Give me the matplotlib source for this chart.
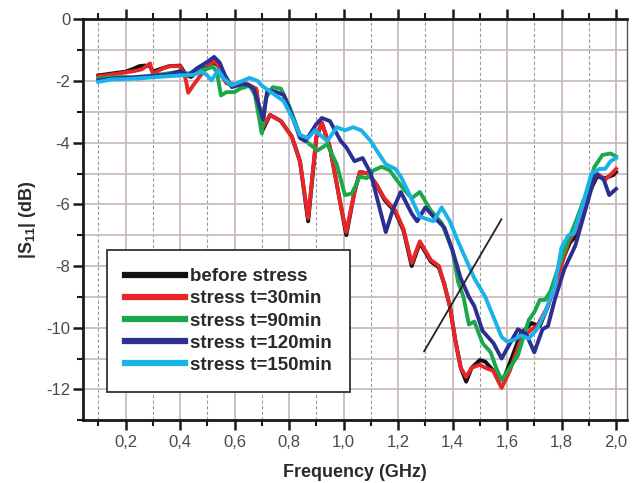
import matplotlib
matplotlib.use('Agg')
import matplotlib.pyplot as plt
from matplotlib.ticker import MultipleLocator, FuncFormatter

plt.rcParams['font.family'] = ['Liberation Sans', 'DejaVu Sans']
plt.rcParams['mathtext.fontset'] = 'custom'
plt.rcParams['mathtext.rm'] = 'Liberation Sans'
plt.rcParams['mathtext.bf'] = 'Liberation Sans:bold'
plt.rcParams['axes.unicode_minus'] = False

# values, frequency in GHz, |S11| in dB
labels = ['before stress', 'stress t=30min', 'stress t=90min', 'stress t=120min', 'stress t=150min']
colors = ['#111111', '#e8262a', '#1ba84b', '#2c2f92', '#19b3ec']

f_before = [0.1, 0.14, 0.18, 0.2, 0.23, 0.25, 0.27, 0.29, 0.3, 0.33, 0.36, 0.4, 0.42, 0.44, 0.47,
            0.5, 0.52, 0.54, 0.56, 0.58, 0.61, 0.64, 0.68, 0.7, 0.73, 0.75, 0.77, 0.81, 0.84, 0.87,
            0.9, 0.92, 0.95, 0.99, 1.01, 1.04, 1.06, 1.09, 1.12, 1.15, 1.19, 1.22, 1.25, 1.28, 1.32,
            1.35, 1.37, 1.39, 1.41, 1.43, 1.45, 1.47, 1.5, 1.52, 1.55, 1.57, 1.59, 1.61, 1.65, 1.69,
            1.72, 1.75, 1.79, 1.83, 1.86, 1.9, 1.93, 1.96, 1.99, 2.0]
s_before = [-1.82, -1.77, -1.72, -1.7, -1.6, -1.52, -1.5, -1.52, -1.7, -1.6, -1.52, -1.5, -1.78, -1.87, -1.65,
            -1.55, -1.38, -1.5, -1.85, -2.1, -2.15, -2.1, -2.3, -3.65, -3.1, -3.2, -3.3, -3.8, -4.6, -6.55,
            -3.85, -3.35, -4.15, -6.05, -7.0, -5.6, -4.95, -5.0, -5.35, -5.85, -6.25, -6.85, -8.0, -7.25, -7.85,
            -8.05, -8.6, -9.3, -10.4, -11.3, -11.75, -11.3, -11.05, -11.1, -11.4, -11.7, -11.6, -11.15, -10.2, -9.85,
            -9.95, -9.3, -8.1, -7.25, -6.95, -5.65, -5.1, -5.15, -5.05, -4.95]

f_30 = [0.1, 0.14, 0.18, 0.2, 0.23, 0.26, 0.29, 0.3, 0.33, 0.36, 0.4, 0.42, 0.43, 0.45, 0.47,
        0.49, 0.51, 0.525, 0.54, 0.55, 0.57, 0.61, 0.64, 0.68, 0.7, 0.73, 0.75, 0.77, 0.81, 0.84,
        0.87, 0.9, 0.92, 0.95, 0.99, 1.01, 1.04, 1.06, 1.09, 1.12, 1.15, 1.19, 1.22, 1.25, 1.28,
        1.32, 1.35, 1.37, 1.39, 1.41, 1.43, 1.45, 1.47, 1.5, 1.52, 1.55, 1.56, 1.58, 1.61, 1.65,
        1.69, 1.71, 1.75, 1.79, 1.825, 1.86, 1.9, 1.93, 1.96, 1.99, 2.0]
s_30 = [-1.85, -1.8, -1.75, -1.72, -1.68, -1.62, -1.43, -1.78, -1.62, -1.52, -1.52, -1.92, -2.38, -2.12, -1.88,
        -1.65, -1.48, -1.33, -1.5, -1.8, -2.07, -2.13, -2.07, -2.25, -3.55, -3.1, -3.2, -3.3, -3.8, -4.6,
        -6.45, -3.8, -3.35, -4.15, -6.05, -6.9, -5.6, -4.95, -5.0, -5.35, -5.8, -6.2, -6.8, -7.9, -7.2,
        -7.8, -8.0, -8.6, -9.3, -10.4, -11.3, -11.6, -11.3, -11.2, -11.3, -11.4, -11.6, -11.95, -11.4, -10.4,
        -10.05, -9.95, -9.3, -8.25, -7.25, -6.7, -5.55, -5.0, -5.2, -4.95, -4.85]

f_90 = [0.1, 0.15, 0.2, 0.25, 0.3, 0.35, 0.4, 0.43, 0.47, 0.5, 0.52, 0.535, 0.55, 0.57, 0.6,
        0.62, 0.655, 0.675, 0.7, 0.715, 0.74, 0.77, 0.8, 0.84, 0.875, 0.905, 0.94, 0.975, 1.005, 1.03,
        1.06, 1.085, 1.11, 1.14, 1.17, 1.19, 1.22, 1.25, 1.28, 1.32, 1.36, 1.4, 1.42, 1.44, 1.46,
        1.48, 1.51, 1.54, 1.56, 1.58, 1.61, 1.64, 1.66, 1.68, 1.7, 1.72, 1.74, 1.76, 1.79, 1.825,
        1.855, 1.89, 1.92, 1.95, 1.98, 2.0]
s_90 = [-1.92, -1.88, -1.87, -1.92, -1.82, -1.76, -1.7, -1.76, -1.65, -1.6, -1.54, -1.7, -2.47, -2.36, -2.36,
        -2.25, -2.15, -2.45, -3.7, -2.55, -2.2, -2.25, -2.8, -3.75, -4.05, -4.25, -4.05, -4.7, -5.7, -5.65,
        -5.1, -5.15, -4.9, -4.78, -4.9, -5.15, -5.5, -5.8, -5.6, -6.2, -6.6, -7.5, -8.5, -9.0, -9.9,
        -9.8, -10.5, -10.8, -11.3, -11.7, -11.3, -10.9, -10.3, -9.75, -9.5, -9.1, -9.1, -8.8, -8.0, -7.15,
        -6.5, -5.65, -4.8, -4.4, -4.35, -4.45]

f_120 = [0.1, 0.15, 0.2, 0.27, 0.35, 0.4, 0.43, 0.46, 0.5, 0.525, 0.545, 0.565, 0.59, 0.62, 0.65,
         0.67, 0.69, 0.705, 0.72, 0.75, 0.78, 0.81, 0.84, 0.86, 0.9, 0.92, 0.95, 0.99, 1.01, 1.04,
         1.07, 1.1, 1.12, 1.155, 1.18, 1.21, 1.25, 1.27, 1.3, 1.33, 1.37, 1.4, 1.43, 1.46, 1.48,
         1.51, 1.55, 1.58, 1.605, 1.64, 1.67, 1.7, 1.73, 1.75, 1.775, 1.81, 1.85, 1.89, 1.925, 1.955,
         1.975, 2.0]
s_120 = [-1.98, -1.92, -1.9, -1.85, -1.8, -1.68, -1.82, -1.6, -1.38, -1.22, -1.4, -1.82, -2.2, -2.1, -2.12,
         -2.25, -2.8, -3.25, -2.3, -2.35, -2.45, -3.1, -3.85, -3.95, -3.4, -3.2, -3.3, -3.95, -4.15, -4.6,
         -4.5, -5.0, -5.7, -6.9, -6.2, -5.6, -6.3, -6.55, -6.1, -6.4, -6.75, -7.5, -8.4, -9.0, -9.3,
         -10.1, -10.5, -11.0, -10.6, -10.05, -10.2, -10.8, -10.05, -9.95, -9.1, -8.1, -7.35, -6.1, -5.0, -5.2,
         -5.7, -5.5]

f_150 = [0.1, 0.15, 0.2, 0.27, 0.35, 0.4, 0.45, 0.48, 0.5, 0.515, 0.54, 0.56, 0.59, 0.62, 0.655,
         0.685, 0.7, 0.74, 0.78, 0.815, 0.84, 0.87, 0.895, 0.94, 0.975, 1.005, 1.035, 1.065, 1.1, 1.125,
         1.155, 1.19, 1.21, 1.235, 1.28, 1.33, 1.36, 1.39, 1.42, 1.45, 1.48, 1.52, 1.55, 1.58, 1.6,
         1.625, 1.65, 1.68, 1.71, 1.74, 1.775, 1.8, 1.825, 1.845, 1.875, 1.91, 1.94, 1.96, 1.98, 2.0]
s_150 = [-2.03, -1.95, -1.94, -1.9, -1.85, -1.82, -1.8, -1.7, -1.82, -1.98, -1.65, -1.92, -2.14, -2.03, -1.9,
         -2.0, -2.15, -2.4, -2.65, -3.25, -3.75, -3.85, -3.6, -3.95, -3.5, -3.6, -3.5, -3.6, -3.95, -4.3,
         -4.7, -4.85, -5.1, -5.55, -6.4, -6.55, -6.1, -6.55, -7.2, -7.8, -8.4, -9.0, -9.65, -10.3, -10.45,
         -10.4, -10.25, -10.35, -10.05, -9.5, -8.65, -7.4, -7.0, -6.95, -6.1, -5.0, -4.85, -4.85, -4.6, -4.5]

freqs = [f_before, f_30, f_90, f_120, f_150]
s11 = [s_before, s_30, s_90, s_120, s_150]

# trend arrow (start, end)
arrow_start = (1.29, -10.85)
arrow_end = (1.585, -6.4)


def comma(v, pos):
    return ('%.1f' % v).replace('.', ',')


fig = plt.figure(figsize=(6.32, 4.83), dpi=100)
ax = fig.add_axes([0.131, 0.130, 0.861, 0.830])

for f, s, c, lab in zip(freqs, s11, colors, labels):
    ax.plot(f, s, color=c, lw=2.8, label=lab, solid_joinstyle='round', zorder=3)

ax.annotate('', xy=arrow_end, xytext=arrow_start,
            arrowprops=dict(arrowstyle='-', color='#222222', lw=1.3), zorder=4)

ax.set_xlim(0.043, 2.04)
ax.set_ylim(-13.0, 0)
ax.xaxis.set_major_locator(MultipleLocator(0.2))
ax.xaxis.set_minor_locator(MultipleLocator(0.1))
ax.yaxis.set_major_locator(MultipleLocator(2))
ax.yaxis.set_minor_locator(MultipleLocator(1))
ax.xaxis.set_major_formatter(FuncFormatter(comma))

# grid: solid at labelled freqs and every dB, dashed at the odd tenths
ax.grid(True, which='major', axis='x', color='#c9bcbc', lw=1.3, ls='-', zorder=0)
ax.grid(True, which='minor', axis='x', color='#9a9a9a', lw=0.8, ls=(0, (3, 2)), zorder=0)
ax.grid(True, which='both', axis='y', color='#c9bcbc', lw=1.3, ls='-', zorder=0)
ax.set_axisbelow(True)

for side in ['left', 'bottom', 'top']:
    ax.spines[side].set_linewidth(2.0)
    ax.spines[side].set_color('#1a1a1a')
ax.spines['right'].set_linewidth(1.0)
ax.spines['right'].set_color('#555555')

ax.tick_params(which='major', direction='out', length=7, width=1.8, color='#1a1a1a',
               labelsize=12, labelcolor='#4a4a4a', top=True, right=False)
ax.tick_params(which='minor', direction='out', length=4, width=1.5, color='#1a1a1a',
               top=True, right=False)
ax.tick_params(axis='x', which='both', labeltop=False, pad=4)
ax.tick_params(axis='y', which='major', pad=2)

ax.set_xlabel('Frequency (GHz)', fontsize=13, fontweight='bold', color='#2a2a2a', labelpad=10)
ax.set_ylabel(r'|S$_{\mathbf{11}}$| (dB)', fontsize=13, fontweight='bold', color='#2a2a2a', labelpad=6)

leg = ax.legend(loc='lower left', bbox_to_anchor=(0.044, 0.071),
                prop={'weight': 'bold', 'size': 13.5}, frameon=True, fancybox=False,
                handlelength=3.2, handletextpad=0.3, labelspacing=0.27, borderpad=0.95,
                borderaxespad=0.0)
leg.get_frame().set_edgecolor('#333333')
leg.get_frame().set_linewidth(1.3)
leg.get_frame().set_alpha(1.0)
for t in leg.get_texts():
    t.set_color('#2a2a2a')
for h in leg.get_lines():
    h.set_linewidth(4.5)

fig.savefig('out.png', dpi=100)
